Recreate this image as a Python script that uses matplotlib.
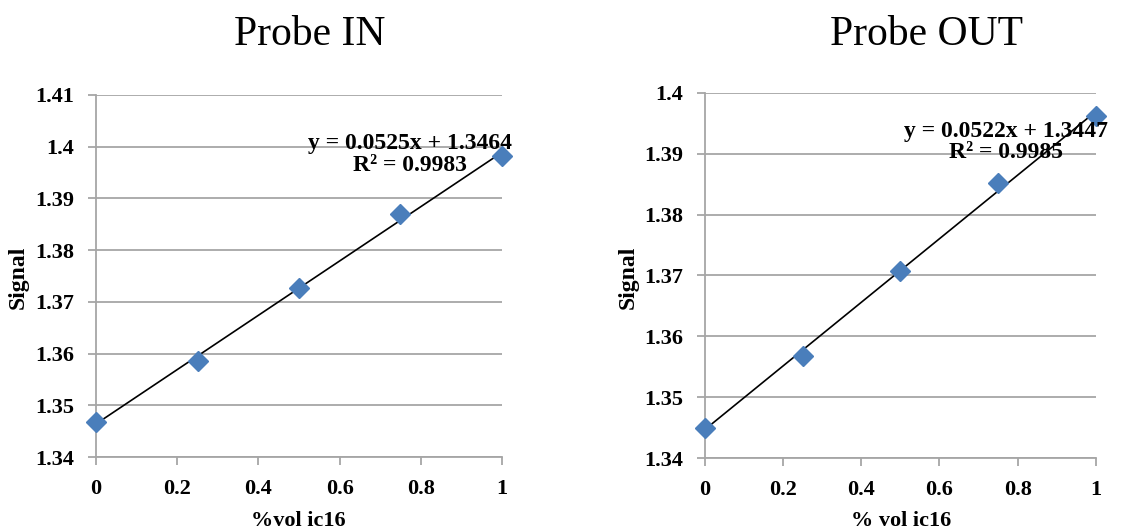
import matplotlib
matplotlib.use('Agg')
import numpy as np
from matplotlib import pyplot as plt

# concentration (% vol ic16)
x_vals = [0, 0.25, 0.5, 0.75, 1]

# probe IN
signal_in = [1.3467, 1.3586, 1.3726, 1.3869, 1.3982]
fit_in = (0.0525, 1.3464)
eq_in = 'y = 0.0525x + 1.3464\nR² = 0.9983'

# probe OUT
signal_out = [1.3450, 1.3568, 1.3707, 1.3852, 1.3962]
fit_out = (0.0522, 1.3447)
eq_out = 'y = 0.0522x + 1.3447\nR² = 0.9985'

yticks_in = [1.34, 1.35, 1.36, 1.37, 1.38, 1.39, 1.40, 1.41]
ylabels_in = ['1.34', '1.35', '1.36', '1.37', '1.38', '1.39', '1.4', '1.41']
yticks_out = [1.34, 1.35, 1.36, 1.37, 1.38, 1.39, 1.40]
ylabels_out = ['1.34', '1.35', '1.36', '1.37', '1.38', '1.39', '1.4']
xticks = [0, 0.2, 0.4, 0.6, 0.8, 1]
xlabels = ['0', '0.2', '0.4', '0.6', '0.8', '1']

plt.rcParams['font.family'] = ['Liberation Serif', 'DejaVu Serif']

GREY = '#a6a6a6'
BLUE = '#4a7ebb'


def draw(ax, y, fit, eq, yticks, ylabels, eq_pos):
    ax.yaxis.grid(True, color=GREY, lw=1.3)
    ax.set_axisbelow(True)
    for s in ['top', 'right']:
        ax.spines[s].set_visible(False)
    for s in ['left', 'bottom']:
        ax.spines[s].set_color(GREY)
        ax.spines[s].set_linewidth(1.3)
    xs = np.array([0, 1])
    ax.plot(xs, fit[0] * xs + fit[1], color='black', lw=1.2, zorder=3)
    ax.plot(x_vals, y, ls='none', marker='D', ms=10.5, color=BLUE,
            clip_on=False, zorder=4)
    ax.set_xlim(0, 1)
    ax.set_ylim(yticks[0], yticks[-1])
    ax.set_xticks(xticks)
    ax.set_xticklabels(xlabels)
    ax.set_yticks(yticks)
    ax.set_yticklabels(ylabels)
    ax.tick_params(axis='both', direction='out', length=6, width=1.3,
                   color=GREY, labelsize=16, pad=10)
    for lab in ax.get_xticklabels() + ax.get_yticklabels():
        lab.set_fontweight('bold')
    ax.text(eq_pos[0], eq_pos[1], eq, ha='center', va='center',
            fontsize=17, fontweight='bold', linespacing=1.05, zorder=5)


fig = plt.figure(figsize=(11.39, 5.30), dpi=100)
ax1 = fig.add_axes([0.0843, 0.1377, 0.3564, 0.6831])
ax2 = fig.add_axes([0.619, 0.1358, 0.343, 0.6892])

draw(ax1, signal_in, fit_in, eq_in, yticks_in, ylabels_in, (0.774, 1.3985))
draw(ax2, signal_out, fit_out, eq_out, yticks_out, ylabels_out, (0.77, 1.3919))

fig.text(310 / 1139, 1 - 35 / 530, 'Probe IN', ha='center', va='center', fontsize=30)
fig.text(927 / 1139, 1 - 35 / 530, 'Probe OUT', ha='center', va='center', fontsize=30)

fig.text(18 / 1139, 1 - 277 / 530, 'Signal', rotation=90, ha='center', va='center',
         fontsize=17, fontweight='bold')
fig.text(628 / 1139, 1 - 277 / 530, 'Signal', rotation=90, ha='center', va='center',
         fontsize=17, fontweight='bold')
fig.text(298 / 1139, 1 - 521 / 530, '%vol ic16', ha='center', va='center',
         fontsize=16, fontweight='bold')
fig.text(901 / 1139, 1 - 521 / 530, '% vol ic16', ha='center', va='center',
         fontsize=16, fontweight='bold')

fig.savefig('out.png', dpi=100)
